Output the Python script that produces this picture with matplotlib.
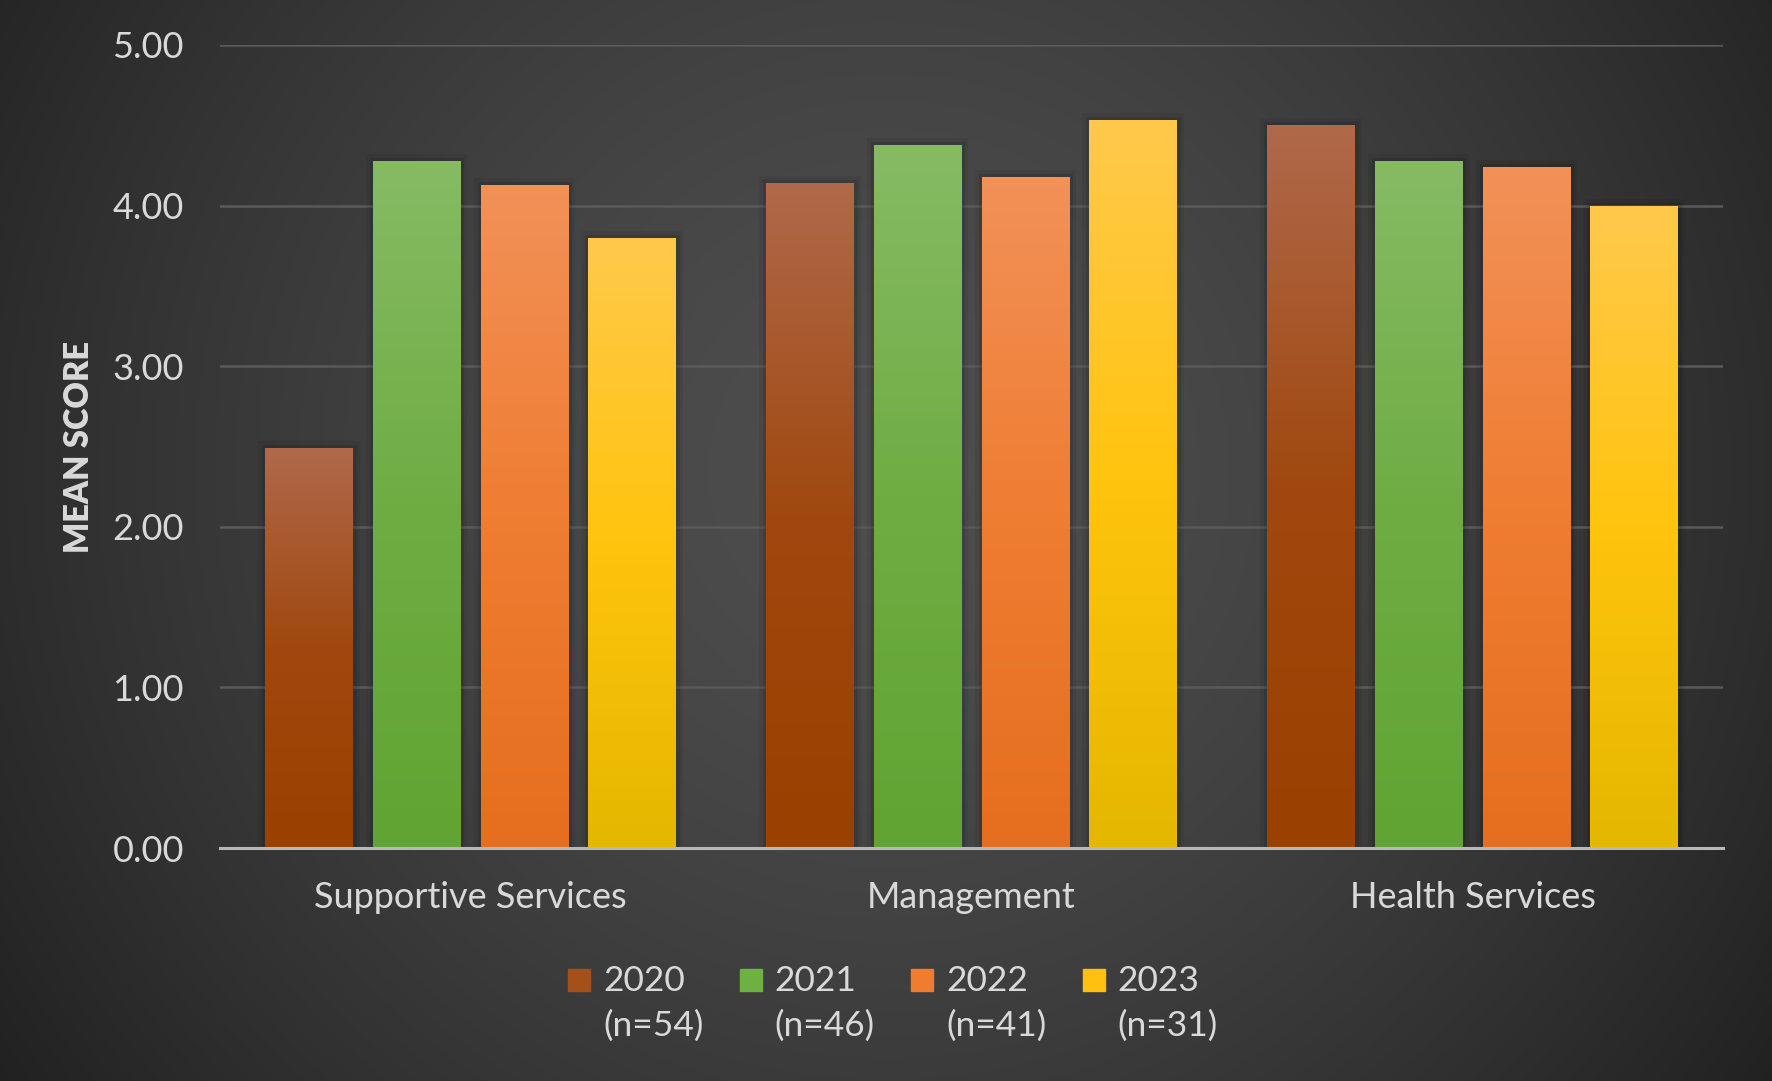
import numpy as np
import matplotlib
matplotlib.use('Agg')
import matplotlib.pyplot as plt
import matplotlib.patheffects as pe
from matplotlib.colors import LinearSegmentedColormap
from matplotlib.patches import Rectangle

plt.rcParams['font.family'] = ['Lato', 'DejaVu Sans']

categories = ['Supportive Services', 'Management', 'Health Services']
years = ['2020', '2021', '2022', '2023']
sample_sizes = ['(n=54)', '(n=46)', '(n=41)', '(n=31)']

scores_2020 = [2.49, 4.14, 4.50]
scores_2021 = [4.28, 4.38, 4.28]
scores_2022 = [4.13, 4.18, 4.24]
scores_2023 = [3.80, 4.53, 4.00]
scores = [scores_2020, scores_2021, scores_2022, scores_2023]

# top / middle / bottom shades for each year's gradient fill
bar_shades = [('#b0694a', '#a0480f', '#9a4000'),
              ('#86bb64', '#6fad43', '#61a433'),
              ('#f29158', '#ef7d32', '#e66e1e'),
              ('#ffc94c', '#ffc40d', '#e5b700')]
legend_colors = ['#a4501a', '#6fb043', '#f07c30', '#ffc010']

text_color = '#d9d9d9'
W, H = 1772, 1081

fig = plt.figure(figsize=(W / 100, H / 100), dpi=100)

# radial dark-grey backdrop
bg = fig.add_axes([0, 0, 1, 1], zorder=-10)
yy, xx = np.mgrid[0:H, 0:W]
dist = np.sqrt((xx - 886.0) ** 2 + (yy - 470.0) ** 2) / 1000.0
shade = (78 - 40 * np.clip(dist, 0, 1.1) ** 1.5) / 255.0
bg.imshow(np.dstack([shade, shade, shade]), extent=(0, 1, 0, 1), aspect='auto')
bg.set_axis_off()

ax = fig.add_axes([220 / W, 1 - 848 / H, 1503 / W, 803 / H])
ax.set_facecolor('none')

x = np.arange(len(categories))
width = 0.174
step = 0.215

for i, vals in enumerate(scores):
    cmap = LinearSegmentedColormap.from_list('g%d' % i, bar_shades[i])
    bars = ax.bar(x + (i - 1.5) * step, vals, width, color='none', zorder=2)
    for b in bars:
        b.set_path_effects([pe.Stroke(linewidth=10, foreground='black', alpha=0.06),
                            pe.Stroke(linewidth=5, foreground='black', alpha=0.10)])
        x0, y0 = b.get_x(), b.get_y()
        grad = np.linspace(0, 1, 256).reshape(-1, 1)
        im = ax.imshow(grad, cmap=cmap, aspect='auto', zorder=2.2,
                       extent=(x0, x0 + b.get_width(), y0, y0 + b.get_height()),
                       origin='upper', interpolation='bicubic')
        im.set_clip_path(b)

ax.set_xlim(-0.5, 2.5)
ax.set_ylim(0, 5)
ax.set_yticks([0, 1, 2, 3, 4, 5])
ax.yaxis.set_major_formatter(matplotlib.ticker.FormatStrFormatter('%.2f'))
ax.set_xticks(x)
ax.set_xticklabels(categories)
ax.tick_params(axis='both', length=0, colors=text_color, labelsize=26)
ax.tick_params(axis='y', pad=26)
ax.tick_params(axis='x', pad=24)

ax.grid(axis='y', color='#5a5a5a', linewidth=1.8, zorder=0.5)
ax.set_axisbelow(True)
for s in ['top', 'right', 'left']:
    ax.spines[s].set_visible(False)
ax.spines['bottom'].set_color('#b8b8b8')
ax.spines['bottom'].set_linewidth(2.2)
ax.spines['bottom'].set_zorder(3)

fig.text(79 / W, 1 - 447 / H, 'MEAN SCORE', rotation=90, ha='center', va='center',
         color=text_color, fontsize=23.5, fontweight='heavy')

# legend: colour square, year, then sample size underneath
for i in range(len(years)):
    left = 568 + i * 171.5
    fig.patches.append(Rectangle((left / W, 1 - 991 / H), 22 / W, 22 / H,
                                 transform=fig.transFigure, color=legend_colors[i]))
    fig.text((left + 35) / W, 1 - 991 / H, years[i], color=text_color,
             fontsize=25.5, va='baseline')
    fig.text((left + 35) / W, 1 - 1036 / H, sample_sizes[i], color=text_color,
             fontsize=25.5, va='baseline')

fig.savefig('out.png', dpi=100)
